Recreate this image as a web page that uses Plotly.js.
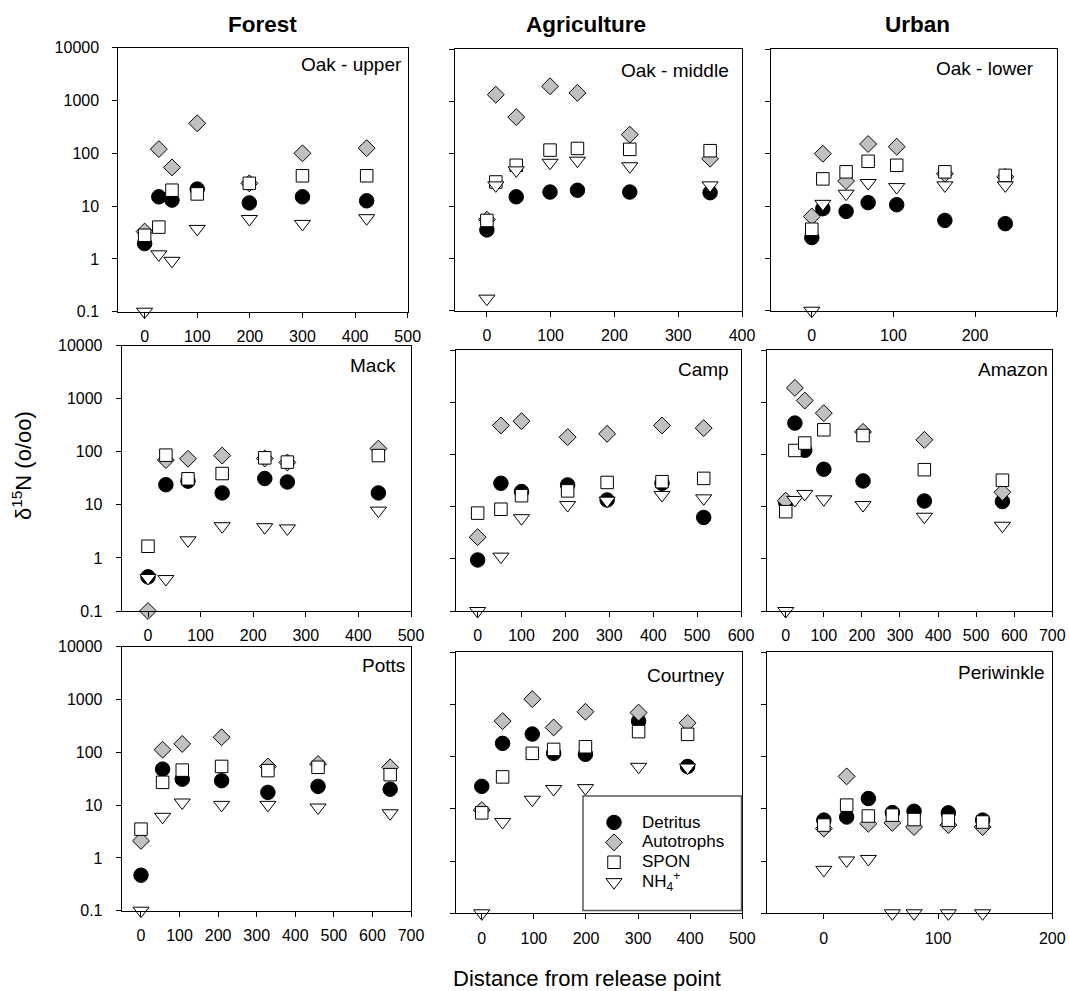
<!DOCTYPE html>
<html>
<head>
<meta charset="utf-8">
<script src="https://cdn.plot.ly/plotly-3.0.1.min.js"></script>
<style>
  html, body { margin: 0; padding: 0; background: #ffffff; }
  #chart { width: 1069px; height: 991px; }
</style>
</head>
<body>
<div id="chart"></div>
<script>
// ---- values: delta 15N (o/oo) by distance from the release point ----
const seriesNames = ['Detritus', 'Autotrophs', 'SPON', 'NH<sub>4</sub><sup>+</sup>'];
const landUse = ['Forest', 'Agriculture', 'Urban'];
const siteNames = ['Oak - upper', 'Oak - middle', 'Oak - lower',
                   'Mack', 'Camp', 'Amazon',
                   'Potts', 'Courtney', 'Periwinkle'];
const xMax = [500, 400, 300, 500, 600, 700, 700, 500, 200];
const yTickVals = [0.1, 1, 10, 100, 1000, 10000];
const yTickText = ['0.1', '1', '10', '100', '1000', '10000'];

// Oak - upper (forest)
const oakUpperDist       = [0, 27, 52, 100, 199, 300, 422];
const oakUpperDetritus   = [1.95, 15, 13, 21, 11.5, 15, 12.6];
const oakUpperAutotrophs = [3.3, 120, 54, 370, 27, 100, 125];
const oakUpperSPON       = [2.8, 4.0, 20, 17, 27, 37.5, 37.5];
const oakUpperNH4        = [0.1, 1.22, 0.92, 3.7, 5.7, 4.6, 5.9];

// Oak - middle (agriculture)
const oakMiddleDist       = [0, 14, 46, 99, 142, 224, 350];
const oakMiddleDetritus   = [3.5, null, 15, 18.5, 20, 18.5, 18];
const oakMiddleAutotrophs = [5.5, 1340, 500, 1940, 1450, 231, 80];
const oakMiddleSPON       = [5.3, 28.8, 60, 117, 126, 121, 114];
const oakMiddleNH4        = [0.17, 24.8, 48, 67, 73.5, 57.5, 24.8];

// Oak - lower (urban)
const oakLowerDist       = [0, 13.5, 42, 69, 104, 163, 237];
const oakLowerDetritus   = [2.5, 8.9, 7.9, 11.6, 10.6, 5.3, 4.6];
const oakLowerAutotrophs = [6.3, 100, 30, 153, 136, 41.5, 36];
const oakLowerSPON       = [3.6, 33, 45, 71.5, 60, 45, 38.5];
const oakLowerNH4        = [0.1, 11, 17.2, 27.5, 23, 24.8, 24.8];

// Mack (forest)
const mackDist       = [0, 34, 76, 141, 222, 265, 438];
const mackDetritus   = [0.44, 24, 28, 16.8, 31.4, 27, 16.8];
const mackAutotrophs = [0.1, 70, 74, 85, 75, 63, 115];
const mackSPON       = [1.66, 86.5, 31, 39, 77, 64, 85];
const mackNH4        = [0.42, 0.40, 2.15, 3.96, 3.8, 3.6, 7.8];

// Camp (agriculture)
const campDist       = [0, 53, 100, 205, 295, 420, 515];
const campDetritus   = [0.95, 28, 19.4, 26, 13.4, 28, 6.2];
const campAutotrophs = [2.6, 358, 433, 214, 248, 358, 318];
const campSPON       = [7.5, 8.9, 16.2, 20, 29, 30, 34.7];
const campNH4        = [0.1, 1.1, 6, 10.7, 13, 16.7, 14.4];

// Amazon (urban)
const amazonDist       = [0, 24, 50, 100, 203, 364, 569];
const amazonDetritus   = [12, 398, 120, 52, 31, 12.8, 12.5];
const amazonAutotrophs = [13, 1880, 1075, 617, 270, 190, 18.8];
const amazonSPON       = [8, 119, 165, 296, 230, 51, 32];
const amazonNH4        = [0.1, 13.4, 17.5, 13.8, 10.7, 6.4, 4.3];

// Potts (forest)
const pottsDist       = [0, 56, 107, 209, 329, 459, 646];
const pottsDetritus   = [0.47, 48, 31, 29, 17.4, 22.6, 20];
const pottsAutotrophs = [2.1, 112, 144, 193, 54, 60, 52];
const pottsSPON       = [3.5, 27, 46, 54, 45, 52, 37.7];
const pottsNH4        = [0.1, 6, 11.2, 10.1, 10.1, 9, 7];

// Courtney (agriculture)
const courtneyDist       = [0, 40, 97, 138, 199, 301, 395];
const courtneyDetritus   = [27, 180, 272, 116, 111, 480, 65];
const courtneyAutotrophs = [9.5, 480, 1265, 363, 725, 700, 445];
const courtneySPON       = [8.4, 41, 116, 138, 155, 302, 268];
const courtneyNH4        = [0.1, 5.6, 15, 24, 25, 64, 62];

// Periwinkle (urban)
const periwinkleDist       = [0, 20, 39, 60, 79, 109, 139];
const periwinkleDetritus   = [6.1, 7, 15.8, 8.5, 9, 8.4, 6.1];
const periwinkleAutotrophs = [4.2, 42, 5.2, 5.4, 4.5, 4.9, 4.5];
const periwinkleSPON       = [4.9, 11.8, 7.3, 7.6, 6.25, 6.1, 5.6];
const periwinkleNH4        = [0.68, 1.03, 1.1, 0.1, 0.1, 0.1, 0.1];

// ---- table of panels built from the arrays above ----
const panels = [
  [oakUpperDist,   [oakUpperDetritus, oakUpperAutotrophs, oakUpperSPON, oakUpperNH4]],
  [oakMiddleDist,  [oakMiddleDetritus, oakMiddleAutotrophs, oakMiddleSPON, oakMiddleNH4]],
  [oakLowerDist,   [oakLowerDetritus, oakLowerAutotrophs, oakLowerSPON, oakLowerNH4]],
  [mackDist,       [mackDetritus, mackAutotrophs, mackSPON, mackNH4]],
  [campDist,       [campDetritus, campAutotrophs, campSPON, campNH4]],
  [amazonDist,     [amazonDetritus, amazonAutotrophs, amazonSPON, amazonNH4]],
  [pottsDist,      [pottsDetritus, pottsAutotrophs, pottsSPON, pottsNH4]],
  [courtneyDist,   [courtneyDetritus, courtneyAutotrophs, courtneySPON, courtneyNH4]],
  [periwinkleDist, [periwinkleDetritus, periwinkleAutotrophs, periwinkleSPON, periwinkleNH4]]
];

// ---- look ----
const W = 1069, H = 991;
const FONT = 'Arial, "Liberation Sans", Helvetica, sans-serif';
const markerStyles = [
  { symbol: 'circle',        size: 14.5, color: '#000000', line: { color: '#000000', width: 1 } },
  { symbol: 'diamond',       size: 13,   color: '#c0c0c0', line: { color: '#000000', width: 1 } },
  { symbol: 'square',        size: 12.5, color: '#ffffff', line: { color: '#000000', width: 1 } },
  { symbol: 'triangle-down', size: 14,   color: '#ffffff', line: { color: '#000000', width: 1 } }
];
// panel frames in pixels: [left, right, top, bottom]
const frames = [
  [118.3, 407.7, 47.7, 311.7], [455, 742, 49, 310.7],       [771, 1056.7, 49, 310.7],
  [121.7, 411, 345.7, 611],    [455.7, 741, 350, 611],      [766.7, 1052.3, 350, 611],
  [121.7, 411, 646.7, 910.7],  [455.7, 742.3, 652.3, 913.3], [766.7, 1052.3, 652.3, 913.3]
];
// site label anchors in pixels: [right edge, vertical centre]
const labelPos = [
  [404, 64], [731, 70], [1036, 69],
  [398, 366], [731, 370], [1050, 369],
  [407, 665], [727, 675], [1047, 672]
];
const titlePos = [[262.5, 25], [585.5, 25], [917.5, 25]];
// legend rows are spaced by the small base size; the visible label text is larger
const legendLabel = t => '<span style="font-size:17px">' + t + '</span>';

const px = v => v / W;
const py = v => 1 - v / H;

const traces = [];
const layout = {
  width: W, height: H,
  margin: { l: 0, r: 0, t: 0, b: 0 },
  paper_bgcolor: '#ffffff',
  plot_bgcolor: '#ffffff',
  font: { family: FONT, color: '#000000' },
  showlegend: true,
  legend: {
    x: px(586), y: py(807.5), xanchor: 'left', yanchor: 'top',
    bgcolor: 'rgba(0,0,0,0)', borderwidth: 0,
    font: { family: FONT, size: 13, color: '#000000' },
    itemwidth: 46, tracegroupgap: 0
  },
  annotations: [],
  shapes: []
};

panels.forEach((panel, i) => {
  const [dist, seriesValues] = panel;
  const n = i === 0 ? '' : String(i + 1);
  const f = frames[i];
  seriesValues.forEach((vals, s) => {
    traces.push({
      type: 'scatter', mode: 'markers',
      x: dist, y: vals,
      xaxis: 'x' + n, yaxis: 'y' + n,
      name: legendLabel(seriesNames[s]), legendgroup: 'g' + s,
      showlegend: i === 0,
      cliponaxis: false,
      marker: markerStyles[s],
      hoverinfo: 'x+y'
    });
  });
  const firstCol = i % 3 === 0;
  layout['xaxis' + n] = {
    domain: [px(f[0]), px(f[1])],
    anchor: 'y' + n,
    range: [-50, xMax[i]],
    tick0: 0, dtick: 100,
    ticks: 'outside', ticklen: 5, tickwidth: 1, tickcolor: '#000000',
    ticklabelstandoff: 5,
    showline: true, linecolor: '#000000', linewidth: 1, mirror: true,
    showgrid: false, zeroline: false,
    tickfont: { family: FONT, size: 16, color: '#000000' }
  };
  layout['yaxis' + n] = {
    domain: [py(f[3]), py(f[2])],
    anchor: 'x' + n,
    type: 'log', range: [-1, 4],
    tickvals: yTickVals, ticktext: yTickText,
    showticklabels: firstCol,
    ticks: 'outside', ticklen: 5, tickwidth: 1, tickcolor: '#000000',
    ticklabelstandoff: 10,
    showline: true, linecolor: '#000000', linewidth: 1, mirror: true,
    showgrid: false, zeroline: false,
    tickfont: { family: FONT, size: 16, color: '#000000' }
  };
  layout.annotations.push({
    xref: 'paper', yref: 'paper',
    x: px(labelPos[i][0]), y: py(labelPos[i][1]),
    xanchor: 'right', yanchor: 'middle',
    text: siteNames[i], showarrow: false,
    font: { family: FONT, size: 19, color: '#000000' }
  });
});

landUse.forEach((t, c) => {
  layout.annotations.push({
    xref: 'paper', yref: 'paper',
    x: px(titlePos[c][0]), y: py(titlePos[c][1]),
    xanchor: 'center', yanchor: 'middle',
    text: '<b>' + t + '</b>', showarrow: false,
    font: { family: FONT, size: 22.5, color: '#000000' }
  });
});

// shared axis titles
layout.annotations.push({
  xref: 'paper', yref: 'paper', x: px(587), y: py(978),
  xanchor: 'center', yanchor: 'middle', showarrow: false,
  text: 'Distance from release point',
  font: { family: FONT, size: 22, color: '#000000' }
});
layout.annotations.push({
  xref: 'paper', yref: 'paper', x: px(22), y: py(466),
  xanchor: 'center', yanchor: 'middle', showarrow: false, textangle: -90,
  text: '\u03b4<sup>15</sup>N (o/oo)',
  font: { family: FONT, size: 22, color: '#000000' }
});

// legend frame
layout.shapes.push({
  type: 'rect', xref: 'paper', yref: 'paper', layer: 'above',
  x0: px(583), x1: px(741.5), y0: py(910.5), y1: py(796),
  line: { color: '#555555', width: 1.5 }, fillcolor: 'rgba(0,0,0,0)'
});

Plotly.newPlot('chart', traces, layout, { displayModeBar: false, staticPlot: true });
</script>
</body>
</html>
